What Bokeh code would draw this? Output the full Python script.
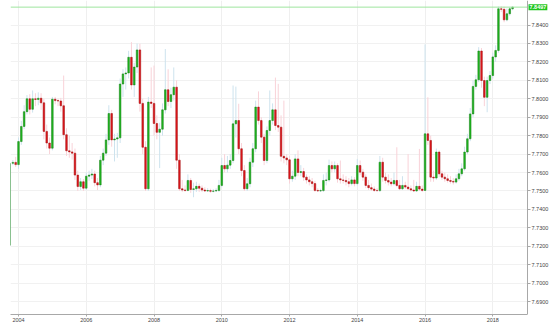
import pandas as pd
from bokeh.plotting import figure
from bokeh.models import ColumnDataSource, FixedTicker, NumeralTickFormatter, Label, Range1d
from bokeh.embed import file_html
from bokeh.resources import INLINE

# Monthly USD/HKD candles, Oct 2003 .. Aug 2018
first_month = "2003-10"
opens = [
    7.7205, 7.7650, 7.7655,
    7.7643, 7.7768, 7.7850, 7.7930, 7.8000, 7.7943, 7.8000, 7.7996, 7.8003, 7.7978, 7.7823, 7.7760,
    7.7732, 7.7998, 7.7990, 7.7988, 7.7962, 7.7805, 7.7718, 7.7712, 7.7705, 7.7586, 7.7524, 7.7550,
    7.7515, 7.7580, 7.7586, 7.7592, 7.7545, 7.7533, 7.7667, 7.7705, 7.7777, 7.7920, 7.7777, 7.7782,
    7.7788, 7.8080, 7.8135, 7.8140, 7.8225, 7.8075, 7.8172, 7.8265, 7.7975, 7.7737, 7.7512, 7.7982,
    7.7975, 7.7866, 7.7818, 7.7835, 7.7940, 7.8049, 7.7985, 7.8022, 7.8063, 7.7667, 7.7512, 7.7505,
    7.7503, 7.7557, 7.7508, 7.7512, 7.7525, 7.7515, 7.7505, 7.7500, 7.7502, 7.7498, 7.7500, 7.7503,
    7.7530, 7.7638, 7.7620, 7.7640, 7.7665, 7.7864, 7.7882, 7.7729, 7.7611, 7.7512, 7.7539, 7.7656,
    7.7729, 7.7955, 7.7882, 7.7792, 7.7665, 7.7828, 7.7882, 7.7940, 7.7855, 7.7846, 7.7688, 7.7679,
    7.7669, 7.7566, 7.7580, 7.7674, 7.7600, 7.7605, 7.7575, 7.7560, 7.7550, 7.7540, 7.7503, 7.7500,
    7.7502, 7.7557, 7.7560, 7.7638, 7.7620, 7.7638, 7.7566, 7.7560, 7.7557, 7.7550, 7.7540, 7.7560,
    7.7540, 7.7638, 7.7602, 7.7575, 7.7530, 7.7518, 7.7510, 7.7503, 7.7502, 7.7656, 7.7575, 7.7557,
    7.7548, 7.7539, 7.7557, 7.7530, 7.7512, 7.7530, 7.7521, 7.7512, 7.7505, 7.7500, 7.7525, 7.7510,
    7.7503, 7.7810, 7.7774, 7.7575, 7.7570, 7.7711, 7.7593, 7.7575, 7.7566, 7.7557, 7.7552, 7.7548,
    7.7566, 7.7593, 7.7620, 7.7711, 7.7783, 7.7918, 7.8067, 7.8103, 7.8259, 7.8099, 7.8008, 7.8099,
    7.8126, 7.8227, 7.8262, 7.8488, 7.8485, 7.8428, 7.8461, 7.8488,
]
closes = [
    7.7650, 7.7655, 7.7643,
    7.7768, 7.7850, 7.7930, 7.8000, 7.7943, 7.8000, 7.7996, 7.8003, 7.7978, 7.7823, 7.7760, 7.7732,
    7.7998, 7.7990, 7.7988, 7.7962, 7.7805, 7.7718, 7.7712, 7.7705, 7.7586, 7.7524, 7.7550, 7.7515,
    7.7580, 7.7586, 7.7592, 7.7545, 7.7533, 7.7667, 7.7705, 7.7777, 7.7920, 7.7777, 7.7782, 7.7788,
    7.8080, 7.8135, 7.8140, 7.8225, 7.8075, 7.8172, 7.8265, 7.7975, 7.7737, 7.7512, 7.7982, 7.7975,
    7.7866, 7.7818, 7.7835, 7.7940, 7.8049, 7.7985, 7.8022, 7.8063, 7.7667, 7.7512, 7.7505, 7.7503,
    7.7557, 7.7508, 7.7512, 7.7525, 7.7515, 7.7505, 7.7500, 7.7502, 7.7498, 7.7500, 7.7503, 7.7530,
    7.7638, 7.7620, 7.7640, 7.7665, 7.7864, 7.7882, 7.7729, 7.7611, 7.7512, 7.7539, 7.7656, 7.7729,
    7.7955, 7.7882, 7.7792, 7.7665, 7.7828, 7.7882, 7.7940, 7.7855, 7.7846, 7.7688, 7.7679, 7.7669,
    7.7566, 7.7580, 7.7674, 7.7600, 7.7605, 7.7575, 7.7560, 7.7550, 7.7540, 7.7503, 7.7500, 7.7502,
    7.7557, 7.7560, 7.7638, 7.7620, 7.7638, 7.7566, 7.7560, 7.7557, 7.7550, 7.7540, 7.7560, 7.7540,
    7.7638, 7.7602, 7.7575, 7.7530, 7.7518, 7.7510, 7.7503, 7.7502, 7.7656, 7.7575, 7.7557, 7.7548,
    7.7539, 7.7557, 7.7530, 7.7512, 7.7530, 7.7521, 7.7512, 7.7505, 7.7500, 7.7525, 7.7510, 7.7503,
    7.7810, 7.7774, 7.7575, 7.7570, 7.7711, 7.7593, 7.7575, 7.7566, 7.7557, 7.7552, 7.7548, 7.7566,
    7.7593, 7.7620, 7.7711, 7.7783, 7.7918, 7.8067, 7.8103, 7.8259, 7.8099, 7.8008, 7.8099, 7.8126,
    7.8227, 7.8262, 7.8488, 7.8485, 7.8428, 7.8461, 7.8488, 7.8497,
]
highs = [
    7.7655, 7.7668, 7.7685,
    7.7790, 7.7880, 7.7965, 7.8020, 7.8025, 7.8045, 7.8030, 7.8035, 7.8030, 7.8000, 7.7860, 7.7790,
    7.8010, 7.8010, 7.8000, 7.8005, 7.8126, 7.7840, 7.7800, 7.7760, 7.7730, 7.7610, 7.7570, 7.7565,
    7.7600, 7.7610, 7.7620, 7.7610, 7.7570, 7.7690, 7.7730, 7.7810, 7.7965, 7.7940, 7.7810, 7.7815,
    7.8110, 7.8160, 7.8170, 7.8260, 7.8307, 7.8195, 7.8300, 7.8298, 7.8000, 7.7770, 7.8010, 7.8170,
    7.8180, 7.7910, 7.7870, 7.7975, 7.8270, 7.8160, 7.8060, 7.8170, 7.8100, 7.7700, 7.7560, 7.7530,
    7.7590, 7.7570, 7.7545, 7.7550, 7.7540, 7.7530, 7.7520, 7.7515, 7.7512, 7.7510, 7.7515, 7.7560,
    7.7680, 7.7700, 7.7690, 7.7700, 7.8072, 7.8066, 7.7973, 7.7760, 7.7640, 7.7570, 7.7680, 7.7760,
    7.7990, 7.8040, 7.7900, 7.7810, 7.7850, 7.8045, 7.7975, 7.8115, 7.8081, 7.7910, 7.7990, 7.7700,
    7.7690, 7.7610, 7.7700, 7.7720, 7.7640, 7.7625, 7.7590, 7.7580, 7.7570, 7.7555, 7.7515, 7.7512,
    7.7590, 7.7600, 7.7670, 7.7660, 7.7660, 7.7650, 7.7665, 7.7590, 7.7580, 7.7570, 7.7580, 7.7575,
    7.7674, 7.7665, 7.7620, 7.7590, 7.7560, 7.7540, 7.7525, 7.7515, 7.7690, 7.7680, 7.7600, 7.7590,
    7.7570, 7.7600, 7.7737, 7.7560, 7.7580, 7.7550, 7.7700, 7.7530, 7.7560, 7.7550, 7.7728, 7.7530,
    7.8295, 7.8008, 7.7800, 7.7610, 7.7730, 7.7720, 7.7610, 7.7600, 7.7590, 7.7580, 7.7570, 7.7590,
    7.7620, 7.7650, 7.7740, 7.7810, 7.7950, 7.8100, 7.8130, 7.8280, 7.8275, 7.8120, 7.8120, 7.8150,
    7.8250, 7.8290, 7.8500, 7.8502, 7.8500, 7.8490, 7.8498, 7.8500,
]
lows = [
    7.7200, 7.7640, 7.7630,
    7.7620, 7.7750, 7.7835, 7.7915, 7.7915, 7.7925, 7.7960, 7.7965, 7.7940, 7.7780, 7.7730, 7.7700,
    7.7720, 7.7970, 7.7960, 7.7930, 7.7780, 7.7690, 7.7680, 7.7670, 7.7560, 7.7500, 7.7505, 7.7500,
    7.7505, 7.7555, 7.7565, 7.7525, 7.7505, 7.7520, 7.7640, 7.7690, 7.7750, 7.7740, 7.7660, 7.7680,
    7.7760, 7.8010, 7.8050, 7.8110, 7.8050, 7.8010, 7.8140, 7.7930, 7.7700, 7.7500, 7.7500, 7.7950,
    7.7800, 7.7780, 7.7624, 7.7800, 7.7920, 7.7960, 7.7950, 7.7990, 7.7620, 7.7500, 7.7495, 7.7495,
    7.7498, 7.7490, 7.7466, 7.7495, 7.7495, 7.7495, 7.7495, 7.7495, 7.7490, 7.7492, 7.7495, 7.7495,
    7.7520, 7.7600, 7.7600, 7.7620, 7.7650, 7.7790, 7.7700, 7.7580, 7.7500, 7.7500, 7.7520, 7.7630,
    7.7710, 7.7860, 7.7760, 7.7640, 7.7650, 7.7800, 7.7860, 7.7830, 7.7820, 7.7660, 7.7650, 7.7640,
    7.7540, 7.7550, 7.7560, 7.7580, 7.7580, 7.7555, 7.7540, 7.7530, 7.7520, 7.7495, 7.7495, 7.7495,
    7.7495, 7.7530, 7.7550, 7.7600, 7.7600, 7.7545, 7.7540, 7.7540, 7.7530, 7.7520, 7.7530, 7.7525,
    7.7530, 7.7585, 7.7555, 7.7515, 7.7505, 7.7500, 7.7495, 7.7495, 7.7495, 7.7550, 7.7540, 7.7530,
    7.7525, 7.7530, 7.7520, 7.7505, 7.7505, 7.7510, 7.7505, 7.7498, 7.7495, 7.7495, 7.7500, 7.7495,
    7.7500, 7.7750, 7.7550, 7.7550, 7.7560, 7.7575, 7.7560, 7.7550, 7.7545, 7.7540, 7.7535, 7.7540,
    7.7555, 7.7580, 7.7610, 7.7700, 7.7770, 7.7900, 7.8050, 7.8090, 7.8060, 7.7960, 7.7927, 7.8080,
    7.8110, 7.8200, 7.8250, 7.8470, 7.8415, 7.8420, 7.8450, 7.8480,
]
x_ticks = [2004, 2006, 2008, 2010, 2012, 2014, 2016, 2018]
y_ticks = [7.69, 7.70, 7.71, 7.72, 7.73, 7.74, 7.75, 7.76, 7.77, 7.78, 7.79, 7.80, 7.81, 7.82, 7.83, 7.84]
last_price = 7.8497

UP, DOWN = "#20b820", "#e3161c"
UP_EDGE, DOWN_EDGE = "#0f7a0f", "#9a0c0c"
UP_WICK, DOWN_WICK = "#cde3ee", "#f9d2d8"

X_START, X_AXIS, X_END = 2003.764, 2019.024, 2019.703

months = pd.period_range(start=first_month, periods=len(closes), freq="M")
xs = [m.year + (m.month - 1) / 12 for m in months]
up = [c >= o for o, c in zip(opens, closes)]
bw = 0.58 / 12
src = ColumnDataSource(dict(
    x=xs, open=opens, close=closes, high=highs, low=lows,
    top=[max(o, c) for o, c in zip(opens, closes)],
    bottom=[min(o, c) for o, c in zip(opens, closes)],
    fill=[UP if u else DOWN for u in up],
    edge=[UP_EDGE if u else DOWN_EDGE for u in up],
    wick=[UP_WICK if u else DOWN_WICK for u in up],
    w=[0.02 if i == 0 else bw for i in range(len(closes))],
))

p = figure(width=550, height=327, output_backend="svg", toolbar_location=None,
           x_range=Range1d(X_START, X_END), y_range=Range1d(7.6830, 7.8533),
           y_axis_location="right", min_border_left=10, min_border_right=0,
           min_border_top=0, min_border_bottom=13)
p.outline_line_color = None
p.background_fill_color = "white"
p.border_fill_color = "white"

# blank the area right of the price axis (grid lines stop at the axis)
p.quad(left=[X_AXIS], right=[X_END], bottom=[7.6830], top=[7.8533],
       fill_color="white", line_color=None)

p.segment(x0="x", x1="x", y0="low", y1="high", color="wick", line_width=1, source=src)
p.vbar(x="x", width="w", top="top", bottom="bottom", fill_color="fill",
       line_color="edge", line_width=0.5, source=src)

p.segment(x0=[X_START], x1=[X_AXIS], y0=[last_price], y1=[last_price],
          line_color="#9fe59f", line_width=1)
p.add_layout(Label(x=X_AXIS, y=last_price, x_offset=1, text=f"{last_price:.4f}",
                   text_font="Liberation Sans", text_font_size="5.5px", text_font_style="bold",
                   text_color="white", text_baseline="middle", text_align="left",
                   background_fill_color="#1ec51e", padding=1))

p.yaxis.fixed_location = X_AXIS
p.xaxis.bounds = (X_START, X_AXIS)
p.xaxis.ticker = FixedTicker(ticks=x_ticks)
p.xaxis.major_label_overrides = {t: str(t) for t in x_ticks}
p.yaxis.ticker = FixedTicker(ticks=y_ticks)
p.yaxis.formatter = NumeralTickFormatter(format="0.0000")
for ax in (p.xaxis, p.yaxis):
    ax.axis_line_color = "#a8a8a8"
    ax.axis_line_width = 1
    ax.major_tick_line_color = "#a8a8a8"
    ax.minor_tick_line_color = None
    ax.major_tick_in = 0
    ax.major_tick_out = 3
    ax.major_label_standoff = 1
    ax.major_label_text_font = "Liberation Sans"
    ax.major_label_text_font_size = "5.5px"
    ax.major_label_text_color = "#444444"
p.xaxis.major_tick_out = 2
p.xgrid.grid_line_color = "#efefef"
p.ygrid.grid_line_color = "#f1f1f1"

open("out.html", "w").write(file_html(p, INLINE))
